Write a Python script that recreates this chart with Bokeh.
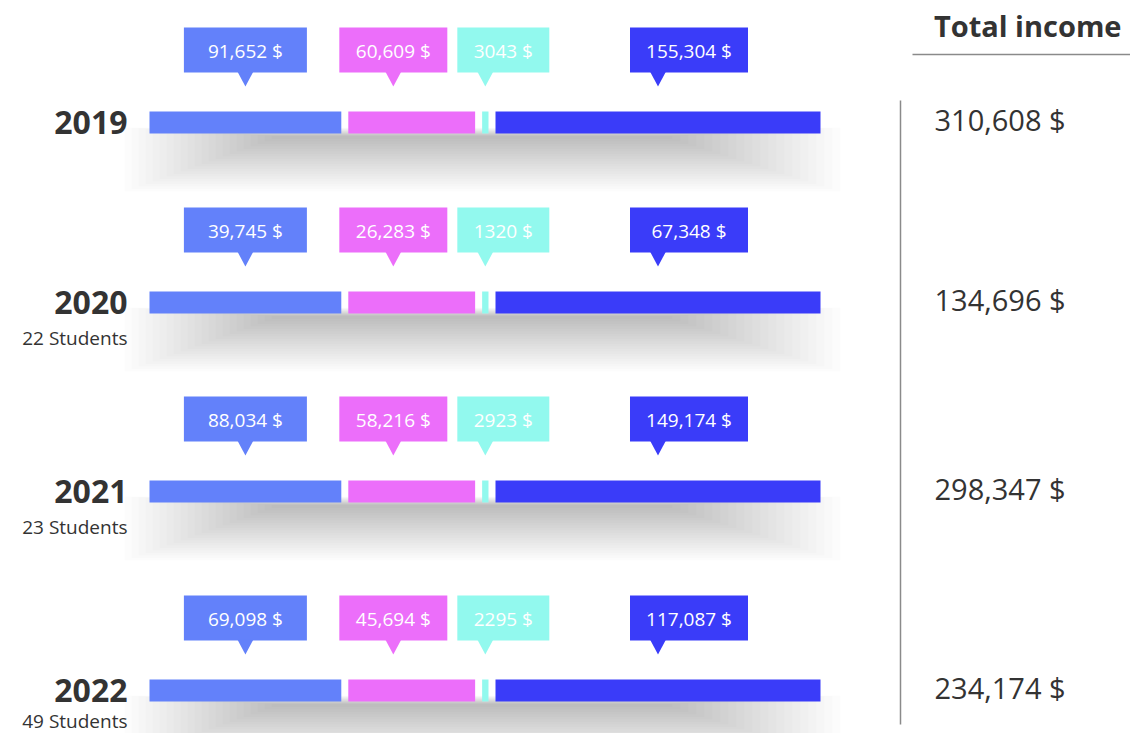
from bokeh.plotting import figure
from bokeh.models import Range1d, ColumnDataSource
from bokeh.core.properties import value
from bokeh.embed import file_html
from bokeh.resources import INLINE

# ---------------- data ----------------
years = ["2019", "2020", "2021", "2022"]
students = ["", "22 Students", "23 Students", "49 Students"]
series_a = [91652, 39745, 88034, 69098]
series_b = [60609, 26283, 58216, 45694]
series_c = [3043, 1320, 2923, 2295]
series_d = [155304, 67348, 149174, 117087]
totals = [310608, 134696, 298347, 234174]
header = "Total income"

# ---------------- style ----------------
colors = ["#6381FA", "#EC6EFA", "#92F9EE", "#3A3CF9"]
FONT = value("Open Sans")
W, H = 1130, 733
BX0, BX1 = 149, 820            # bar extent in px
SPAN = BX1 - BX0
GAP = 7 / SPAN                  # white gap between segments, in share units
row_y = [122, 302, 491, 690]    # row centres (layout)
BAR_H = 22
box_w = [123, 108, 92, 118]     # callout box widths (px)
ptr_off = [None, None, 28, 28]  # pointer offset from box left (None = centred)

p = figure(width=W, height=H, x_range=Range1d(0, W), y_range=Range1d(H, 0),
           output_backend="svg", toolbar_location=None, min_border=0)
p.axis.visible = False
p.grid.visible = False
p.outline_line_color = None
p.background_fill_color = "white"
p.border_fill_color = "white"
p.extra_x_ranges = {"share": Range1d((0 - BX0) / SPAN, (W - BX0) / SPAN)}

def fmt(v):
    return (f"{v:,}" if v >= 10000 else str(v)) + " $"

# ---------------- shadows ----------------
sh = dict(left=[], right=[], top=[], bottom=[])
for r, yc in enumerate(row_y):
    bb = yc + BAR_H / 2
    for k in range(22):
        sh["left"].append(124 + k * 7)
        sh["right"].append(840 - k * 8)
        sh["top"].append(bb - 6 + k * 0.4)
        sh["bottom"].append(bb + 58 - k * 2.5)
p.quad(source=ColumnDataSource(sh), left="left", right="right", top="top", bottom="bottom",
       fill_color="black", fill_alpha=0.0105, line_color=None)

# ---------------- bars & callouts ----------------
bars = dict(left=[], right=[], top=[], bottom=[], color=[])
boxes = dict(left=[], right=[], top=[], bottom=[], color=[])
tri = dict(xs=[], ys=[], color=[])
labels = dict(x=[], y=[], text=[])
series = [series_a, series_b, series_c, series_d]
for r, yc in enumerate(row_y):
    vals = [s[r] for s in series]
    tot = sum(vals)
    scale = 1 - 3 * GAP
    cum = 0.0
    centers_px = []
    for i, v in enumerate(vals):
        frac = v / tot
        l = cum * scale + i * GAP
        rr = l + frac * scale
        bars["left"].append(l); bars["right"].append(rr)
        bars["top"].append(yc - BAR_H / 2); bars["bottom"].append(yc + BAR_H / 2)
        bars["color"].append(colors[i])
        centers_px.append(BX0 + (l + rr) / 2 * SPAN)
        cum += frac
    bt = yc - BAR_H / 2
    lefts = [0] * 4
    ptrs = [0] * 4
    for i in range(4):
        if ptr_off[i] is None:
            lefts[i] = centers_px[i] - box_w[i] / 2
        else:
            lefts[i] = centers_px[i] - ptr_off[i]
        ptrs[i] = centers_px[i]
    if lefts[1] + box_w[1] > lefts[2] - 10:
        lefts[1] = lefts[2] - 10 - box_w[1]
        ptrs[1] = lefts[1] + box_w[1] / 2
    for i in range(4):
        boxes["left"].append(lefts[i]); boxes["right"].append(lefts[i] + box_w[i])
        boxes["top"].append(bt - 84); boxes["bottom"].append(bt - 39)
        boxes["color"].append(colors[i])
        tri["xs"].append([ptrs[i] - 8, ptrs[i] + 8, ptrs[i]])
        tri["ys"].append([bt - 40, bt - 40, bt - 25])
        tri["color"].append(colors[i])
        labels["x"].append(lefts[i] + box_w[i] / 2)
        labels["y"].append(bt - 61)
        labels["text"].append(fmt(vals[i]))

p.quad(source=ColumnDataSource(bars), left="left", right="right", top="top", bottom="bottom",
       fill_color="color", line_color=None, x_range_name="share")
p.quad(source=ColumnDataSource(boxes), left="left", right="right", top="top", bottom="bottom",
       fill_color="color", line_color=None)
p.patches(source=ColumnDataSource(tri), xs="xs", ys="ys", fill_color="color", line_color=None)
p.text(source=ColumnDataSource(labels), x="x", y="y", text="text", text_color="white",
       text_font=FONT, text_font_size="19px", text_align="center", text_baseline="middle")

# ---------------- row labels ----------------
p.text(x=[127] * 4, y=row_y, text=years, text_color="#333333", text_font=FONT,
       text_font_size="32px", text_font_style="bold", text_align="right", text_baseline="middle")
p.text(x=[127] * 4, y=[y + 35 for y in row_y][:3] + [row_y[3] + 30], text=students,
       text_color="#333333", text_font=FONT,
       text_font_size="19px", text_align="right", text_baseline="middle")

# ---------------- totals ----------------
p.text(x=[934] * 4, y=[y - 3 for y in row_y], text=[fmt(t) for t in totals], text_color="#333333",
       text_font=FONT, text_font_size="29px", text_align="left", text_baseline="middle")
p.text(x=[1121], y=[25], text=[header], text_color="#333333", text_font=FONT,
       text_font_size="29px", text_font_style="bold", text_align="right", text_baseline="middle")
p.segment(x0=[912], y0=[54], x1=[1130], y1=[54], line_color="#8a8a8a", line_width=1.5)
p.segment(x0=[900], y0=[100], x1=[900], y1=[724], line_color="#8a8a8a", line_width=1.5)

open("out.html", "w").write(file_html(p, INLINE))
